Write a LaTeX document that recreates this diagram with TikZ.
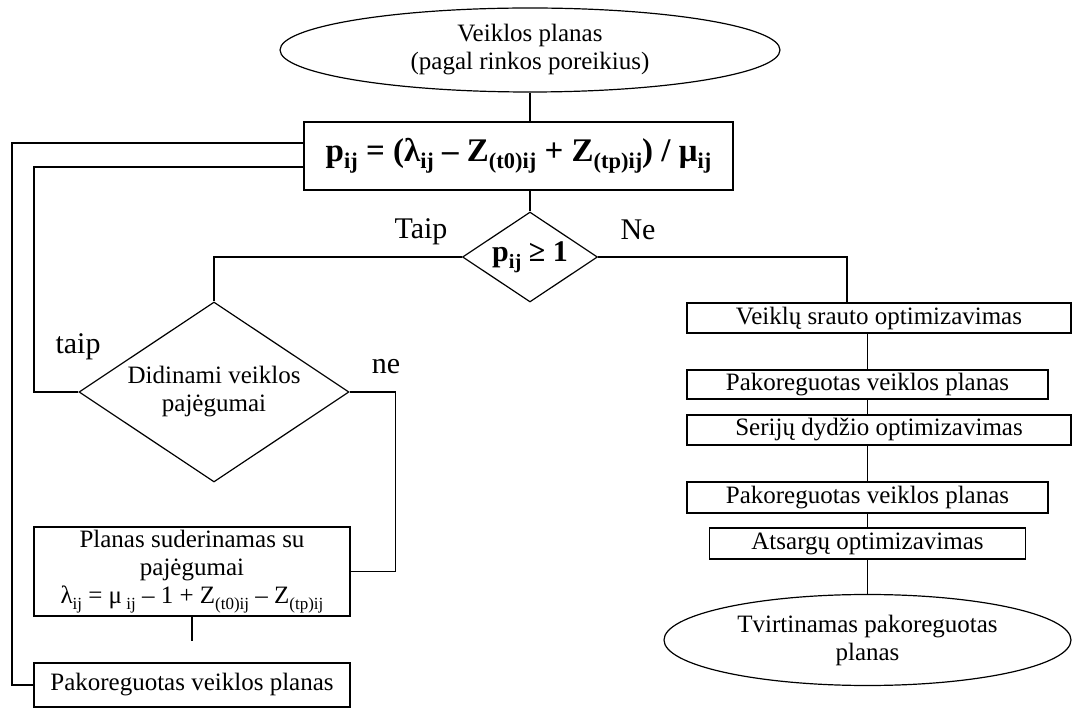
\documentclass[tikz,border=0pt]{standalone}
\usepackage{fontspec}
\setmainfont{Liberation Serif}
\usepackage{graphicx}
\usetikzlibrary{shapes.geometric,calc}
% lowered, reduced index text
\newcommand{\lo}[1]{\raisebox{-0.22em}{\scalebox{0.68}{#1}}}

\begin{document}
\begin{tikzpicture}[x=1pt,y=-1pt,
  every node/.style={font=\fontsize{25}{28}\selectfont},
  line/.style={draw, line width=1.2pt},
  box/.style={draw, line width=1.2pt, rectangle, inner sep=0pt, align=center},
  oval/.style={draw, line width=1.2pt, ellipse, inner sep=0pt, align=center},
  decision/.style={draw, line width=1.2pt, diamond, aspect=1.5, inner sep=0pt, align=center},
  formula/.style={font=\fontsize{30}{34}\selectfont\bfseries},
  bigformula/.style={font=\fontsize{33}{36}\selectfont\bfseries},
  lbl/.style={inner sep=0pt, font=\fontsize{30}{34}\selectfont}
]
\useasboundingbox (0,0) rectangle (1072,708);

% main column
\node[oval, minimum width=500pt, minimum height=84pt] (start) at (530,50)
  {Veiklos planas\\(pagal rinkos poreikius)};
\node[box, bigformula, minimum width=429pt, minimum height=68pt] (pform) at (518.5,156)
  {p\lo{ij} = (λ\lo{ij} – Z\lo{(t0)ij} + Z\lo{(tp)ij}) / μ\lo{ij}};
\node[decision, formula, minimum width=135pt, minimum height=90pt] (dec1) at (530,257)
  {p\lo{ij} ≥ 1};

% left branch
\node[decision, minimum width=270pt, minimum height=180pt] (dec2) at (214,392)
  {Didinami veiklos\\pajėgumai};
\node[box, minimum width=316pt, minimum height=89pt] (adj) at (192,571.5)
  {Planas suderinamas su\\pajėgumai\\λ\lo{ij} = μ\,\lo{ij} – 1 + Z\lo{(t0)ij} – Z\lo{(tp)ij}};
\node[box, minimum width=316pt, minimum height=44pt] (pakL) at (192,685)
  {Pakoreguotas veiklos planas};

% right branch
\node[box, minimum width=384pt, minimum height=30pt] (flow) at (879,318)
  {Veiklų srauto optimizavimas};
\node[box, minimum width=361pt, minimum height=29pt] (pak1) at (867.5,384.5)
  {Pakoreguotas veiklos planas};
\node[box, minimum width=384pt, minimum height=30pt] (batch) at (879,430)
  {Serijų dydžio optimizavimas};
\node[box, minimum width=361pt, minimum height=31pt] (pak2) at (867.5,497.5)
  {Pakoreguotas veiklos planas};
\node[box, minimum width=316pt, minimum height=31pt] (stock) at (867.5,543.5)
  {Atsargų optimizavimas};
\node[oval, minimum width=407pt, minimum height=91pt] (finish) at (867.5,640)
  {Tvirtinamas pakoreguotas\\planas};

% branch labels
\node[lbl] (lTaip) at (421,232) {Taip};
\node[lbl] (lNe) at (638,230) {Ne};
\node[lbl] (lTaip2) at (78,347) {taip};
\node[lbl] (lNe2) at (386,367) {ne};

% feedback corners
\coordinate (outerL) at (12,143);
\coordinate (innerL) at (34,167);

% connectors
\draw[line] (start.south) -- (start.south |- pform.north);
\draw[line] (dec1.north |- pform.south) -- (dec1.north);
\draw[line] (dec1.west) -| (dec2.north);
\draw[line] (dec1.east) -| ([xshift=-32pt]flow.north);
\draw[line] (dec2.west) -| (innerL) -- (innerL -| pform.west);
\draw[line] (pakL.west) -| (outerL) -- (outerL -| pform.west);
\draw[line] (dec2.east) -- ++(46,0) |- (adj.east);
\draw[line] (adj.south) -- ++(0,24);
\draw[line] (pak1.north |- flow.south) -- (pak1.north);
\draw[line] (pak1.south) -- (pak1.south |- batch.north);
\draw[line] (pak2.north |- batch.south) -- (pak2.north);
\draw[line] (pak2.south) -- (stock.north);
\draw[line] (stock.south) -- (finish.north);
\end{tikzpicture}
\end{document}
